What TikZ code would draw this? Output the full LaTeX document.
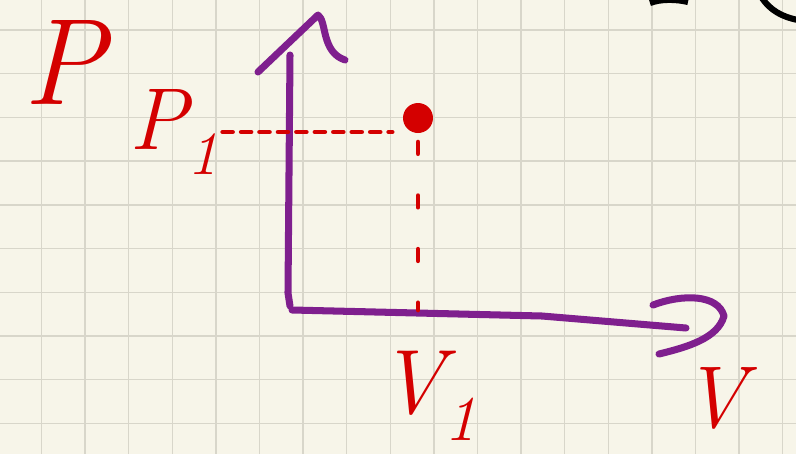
\documentclass[tikz,border=0pt]{standalone}
\definecolor{paper}{HTML}{F7F5E9}
\definecolor{gridgray}{HTML}{D8D6CA}
\definecolor{axispurple}{HTML}{7F1F8E}
\definecolor{inkred}{HTML}{D40000}
\tikzset{
  axisline/.style={axispurple, line width=4pt, line cap=round, line join=round},
  redink/.style={inkred, line width=2.8pt, line cap=round},
  hdash/.style={redink, dash pattern=on 5.5pt off 5pt},
  vdash/.style={redink, dash pattern=on 6.5pt off 24pt},
  inklabel/.style={inkred, inner sep=0pt},
}
\begin{document}
\begin{tikzpicture}[x=0.02cm, y=-0.02cm]
  % one unit is one pixel of the sheet, y grows downwards
  \fill[paper] (0,0) rectangle (796,454);
  \useasboundingbox (0,0) rectangle (796,454);
  \foreach \i in {0,...,17}
    \draw[gridgray, line width=0.8pt] ({41.5+43.6*\i},0) -- ++(0,454);
  \foreach \j in {0,...,9}
    \draw[gridgray, line width=0.8pt] (0,{30+43.7*\j}) -- ++(796,0);
  % axes
  \coordinate (Ytop) at (290,55);
  \coordinate (O)    at (292,310);
  \coordinate (Xend) at (686,328);
  \draw[axisline] (Ytop) -- (288,293) -- (290,306);
  \draw[axisline] (O) -- (542,316) -- (Xend);
  \draw[axisline] (258,72) -- (318,15) .. controls (327,21) and (321,52) .. (345,60);
  \draw[axisline] (653,305) .. controls (682,294) and (718,294) .. (724,316)
    .. controls (718,338) and (688,347) .. (659,354);
  % state point and its readings
  \node[circle, fill=inkred, minimum size=0.6cm, inner sep=0pt] (state) at (418,118) {};
  \node[inklabel, font=\fontsize{70}{70}\selectfont\itshape] (Plabel) at (64,62) {P};
  \node[inklabel, font=\fontsize{50}{50}\selectfont\itshape] (P1label) at (174,132) {P\textsubscript{1}};
  \node[inklabel, font=\fontsize{52}{52}\selectfont\itshape] (V1label) at (428,396) {V\textsubscript{1}};
  \node[inklabel, font=\fontsize{50}{50}\selectfont\itshape] (Vlabel) at (714,398) {V};
  \draw[hdash] ([xshift=2pt]P1label.east) -- ([xshift=-6pt]P1label.east -| state.west);
  \draw[vdash] ([yshift=-5pt]state.south) -- (state |- O);
  % pen marks cut by the top edge
  \draw[black, line width=3.5pt] (650,3) .. controls (660,-1) and (676,-1) .. (688,2);
  \draw[black, line width=3.5pt] (762,-2) .. controls (770,10) and (782,17) .. (798,20);
\end{tikzpicture}
\end{document}
